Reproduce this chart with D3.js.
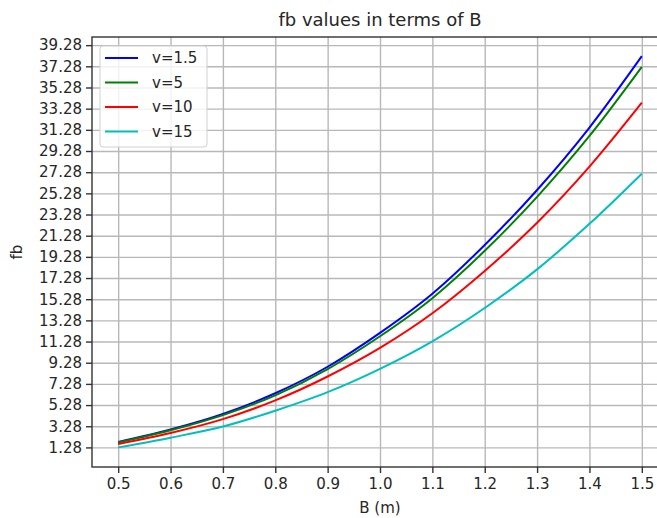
<!DOCTYPE html>
<html>
<head>
<meta charset="utf-8">
<script src="https://cdn.jsdelivr.net/npm/d3@7"></script>
<style>
  body { margin: 0; background: #fff; }
  svg { font-family: "DejaVu Sans", sans-serif; }
</style>
</head>
<body>
<svg width="657" height="518"></svg>
<script>
// data
var bValues = [0.5, 0.6, 0.7, 0.8, 0.9, 1.0, 1.1, 1.2, 1.3, 1.4, 1.5];
var fbV1_5 = [1.80, 2.98, 4.45, 6.40, 8.90, 12.10, 15.80, 20.40, 25.60, 31.50, 38.24];
var fbV5   = [1.75, 2.90, 4.33, 6.20, 8.68, 11.78, 15.38, 19.85, 24.95, 30.70, 37.23];
var fbV10  = [1.60, 2.64, 3.95, 5.72, 7.98, 10.68, 13.95, 17.95, 22.50, 27.80, 33.84];
var fbV15  = [1.28, 2.20, 3.25, 4.75, 6.50, 8.70, 11.30, 14.45, 18.10, 22.40, 27.14];
var seriesNames = ["v=1.5", "v=5", "v=10", "v=15"];
var seriesColors = ["#0000ff", "#008000", "#ff0000", "#00bfbf"];
var xTicks = [0.5, 0.6, 0.7, 0.8, 0.9, 1.0, 1.1, 1.2, 1.3, 1.4, 1.5];
var yTicks = [1.28, 3.28, 5.28, 7.28, 9.28, 11.28, 13.28, 15.28, 17.28, 19.28, 21.28,
              23.28, 25.28, 27.28, 29.28, 31.28, 33.28, 35.28, 37.28, 39.28];

var margin = {top: 37, right: 0, bottom: 51, left: 92};
var width = 668 - margin.left;
var height = 518 - margin.top - margin.bottom;

var allSeries = [fbV1_5, fbV5, fbV10, fbV15];

var xScale = d3.scaleLinear().domain([0.45, 1.55]).range([0, width]);
var yScale = d3.scaleLinear().domain([-0.57, 40.05]).range([height, 0]);

var svg = d3.select('svg');
var g = svg.append('g')
    .attr('transform', 'translate(' + margin.left + ',' + margin.top + ')');

// grid
g.append('g')
    .attr('class', 'xGrid')
    .attr('transform', 'translate(0,' + height + ')')
    .call(d3.axisBottom(xScale).tickValues(xTicks).tickSize(-height).tickFormat(''))
    .call(s => s.select('.domain').remove())
    .selectAll('line').attr('stroke', '#b8b8b8').attr('stroke-width', 1.4);

g.append('g')
    .attr('class', 'yGrid')
    .call(d3.axisLeft(yScale).tickValues(yTicks).tickSize(-width).tickFormat(''))
    .call(s => s.select('.domain').remove())
    .selectAll('line').attr('stroke', '#b8b8b8').attr('stroke-width', 1.4);

// lines
var line = d3.line()
    .x((d, i) => xScale(bValues[i]))
    .y(d => yScale(d))
    .curve(d3.curveMonotoneX);

g.selectAll('.series')
    .data(allSeries)
    .enter()
    .append('path')
    .attr('class', 'series')
    .attr('d', d => line(d))
    .attr('fill', 'none')
    .attr('stroke', (d, i) => seriesColors[i])
    .attr('stroke-width', 2);

// frame
g.append('rect')
    .attr('width', width).attr('height', height)
    .attr('fill', 'none').attr('stroke', '#333').attr('stroke-width', 1.4);

// axes
var xAxisGroup = g.append('g')
    .attr('transform', 'translate(0,' + height + ')')
    .call(d3.axisBottom(xScale).tickValues(xTicks).tickSize(6).tickPadding(5).tickFormat(d3.format('.1f')));
var yAxisGroup = g.append('g')
    .call(d3.axisLeft(yScale).tickValues(yTicks).tickSize(6).tickPadding(4).tickFormat(d3.format('.2f')));

[xAxisGroup, yAxisGroup].forEach(function(a) {
    a.select('.domain').remove();
    a.selectAll('line').attr('stroke', '#333').attr('stroke-width', 1.4);
    a.selectAll('text').attr('fill', '#262626').style('font-size', '15px')
        .style('font-family', '"DejaVu Sans", sans-serif');
});

// titles
svg.append('text')
    .attr('x', margin.left + xScale(1.0)).attr('y', 26)
    .attr('text-anchor', 'middle')
    .attr('fill', '#262626')
    .style('font-size', '18px')
    .text('fb values in terms of B');

svg.append('text')
    .attr('x', margin.left + xScale(1.0)).attr('y', 513)
    .attr('text-anchor', 'middle')
    .attr('fill', '#262626')
    .style('font-size', '15px')
    .text('B (m)');

svg.append('text')
    .attr('transform', 'translate(22,' + (margin.top + height / 2) + ') rotate(-90)')
    .attr('text-anchor', 'middle')
    .attr('fill', '#262626')
    .style('font-size', '15px')
    .text('fb');

// legend
var legend = svg.append('g').attr('transform', 'translate(100,46)');
legend.append('rect')
    .attr('width', 107).attr('height', 101)
    .attr('rx', 3)
    .attr('fill', '#fff').attr('fill-opacity', 0.8)
    .attr('stroke', '#d0d0d0');

var items = legend.selectAll('.item')
    .data(seriesNames)
    .enter()
    .append('g')
    .attr('transform', (d, i) => 'translate(0,' + (12 + i * 24.5) + ')');
items.append('line')
    .attr('x1', 5).attr('x2', 38)
    .attr('stroke', (d, i) => seriesColors[i])
    .attr('stroke-width', 2);
items.append('text')
    .attr('x', 52).attr('y', 5)
    .attr('fill', '#262626')
    .style('font-size', '15px')
    .text(d => d);
</script>
</body>
</html>
